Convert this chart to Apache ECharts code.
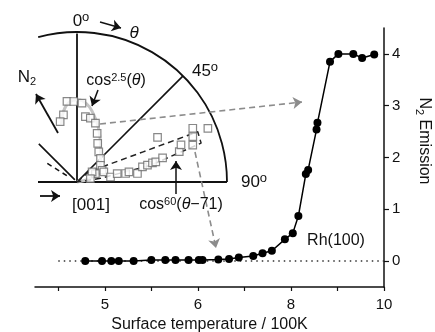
<!DOCTYPE html>
<html>
<head>
<meta charset="utf-8">
<script src="https://cdn.jsdelivr.net/npm/echarts@6/dist/echarts.min.js"></script>
<style>html,body{margin:0;padding:0;background:#fff}#chart{width:435px;height:332px}</style>
</head>
<body>
<div id="chart"></div>
<script>
// main curve, temperature in 100K
var surfaceTemp = [4.79, 4.97, 5.07, 5.15, 5.31, 5.50, 5.65, 5.76, 5.90, 6.02, 6.10, 6.44, 6.67, 6.88, 7.19, 7.39, 7.59, 7.87, 8.04, 8.16, 8.32, 8.37, 8.55, 8.57, 8.84, 9.02, 9.34, 9.53, 9.79];
var n2Emission = [0, 0, 0, 0, 0, 0.02, 0.02, 0.02, 0.02, 0.02, 0.02, 0.03, 0.04, 0.07, 0.1, 0.15, 0.2, 0.42, 0.54, 0.87, 1.68, 1.76, 2.54, 2.67, 3.85, 4.0, 4.0, 3.92, 3.99];
var zeroLineTemps = [4.5, 10];
// axis is not linear in T: ticks are evenly spaced
var tickTemps = [4.5, 5, 5.5, 6, 7, 8, 9, 10];
var labelTemps = [5, 6, 8, 10];
var emissionTicks = [0, 1, 2, 3, 4];

// inset, polar: [intensity, angle deg from normal]
var insetSquares = [[0.541,-7.1],[0.537,-2.3],[0.527,3.6],[0.457,-11.4],[0.418,-15.6],[0.44,7.3],[0.435,11.8],[0.411,17.4],[0.351,22.5],[0.292,28.2],[0.248,35.8],[0.222,44.9],[0.192,54.4],[0.185,64.9],[0.135,65.3],[0.121,56.3],[0.092,75.7],
  [0.191,69.4],[0.226,81.5],[0.274,78.1],[0.329,80.1],[0.353,79],[0.407,82],[0.448,77],[0.483,76.6],[0.519,75.8],[0.542,75.7],[0.593,74.2],[0.614,61],[0.711,73.5],[0.736,70.4],[0.81,72.3],[0.829,68.6],[0.851,65.1],[0.943,67.7]];
var cosFitGray = [[0.40,-15],[0.477,-11],[0.531,-6],[0.548,0],[0.525,7],[0.467,13.5],[0.388,21.6],[0.292,32.4],[0.214,47],[0.157,65.5],[0.093,74.5],[0,0]];
var cos60Lobe = [[0,0],[0.103,49],[0.485,65.5],[0.872,67.4],[0.867,72.6],[0.504,77.2],[0.158,81],[0,0]];
var normalLine = [[0,0],[0.99,0]];
var diagLine = [[0,45],[1,45]];
var surfaceLine = [[0.26,-90],[0,0],[1,90]];
var leftSolid = [[0.02,-45],[0.36,-45]];
var leftDashed = [[0.08,-58],[0.26,-58]];

function toAxis(t) { return t <= 6 ? (t - 4.5) * 2 : 3 + (t - 6); }
function fromAxis(u) { return u <= 3 ? 4.5 + u / 2 : 6 + (u - 3); }

var FONT = '"Liberation Sans", Arial, sans-serif';
var chart = echarts.init(document.getElementById('chart'));

var mainData = surfaceTemp.map(function (t, i) { return [toAxis(t), n2Emission[i]]; });

function arrow(x1, y1, x2, y2, color, width, type) {
  return [
    {x: x1, y: y1, symbol: 'none', lineStyle: {color: color, width: width, type: type}, itemStyle: {color: color}},
    {x: x2, y: y2, symbol: 'arrow', symbolSize: 9, itemStyle: {color: color}}
  ];
}

function polarLine(data, color, width, type, smooth) {
  return {
    type: 'line', coordinateSystem: 'polar', polarIndex: 1, data: data,
    symbol: 'none', smooth: smooth || false, clip: false, silent: true,
    lineStyle: {color: color, width: width, type: type || 'solid'}, z: 3
  };
}

var supStyle = {fontSize: 11, fontFamily: FONT, verticalAlign: 'top', lineHeight: 18, fill: '#111'};
var degStyle = {fontSize: 13, fontFamily: FONT, verticalAlign: 'top', lineHeight: 20, fill: '#111'};
var subStyle = {fontSize: 11, fontFamily: FONT, verticalAlign: 'bottom', lineHeight: 20, fill: '#111'};
function txt(x, y, text, size) {
  var rich = {sup: supStyle, deg: degStyle, sub: subStyle, it: {fontStyle: 'italic', fontSize: size, fontFamily: FONT, lineHeight: 18, fill: '#111'}};
  return {
    type: 'text', x: x, y: y, z: 10,
    style: {text: text, font: size + 'px ' + FONT, fill: '#111', align: 'center', verticalAlign: 'middle', rich: rich, lineHeight: 18}
  };
}

chart.setOption({
  animation: false,
  grid: {left: 35, right: 51, top: 28, bottom: 45, containLabel: false, outerBoundsMode: 'none'},
  xAxis: {
    type: 'value', min: -0.5, max: 7,
    axisLine: {onZero: false, lineStyle: {color: '#111', width: 1.5}},
    axisTick: {customValues: tickTemps.map(toAxis), length: 4, lineStyle: {color: '#111', width: 1.2}},
    axisLabel: {customValues: labelTemps.map(toAxis), margin: 10, color: '#111', fontSize: 15, fontFamily: FONT,
      formatter: function (v) { return String(Math.round(fromAxis(v) * 10) / 10); }},
    splitLine: {show: false},
    name: 'Surface temperature / 100K', nameLocation: 'middle', nameGap: 29,
    nameTextStyle: {color: '#111', fontSize: 16, fontFamily: FONT}
  },
  yAxis: {
    type: 'value', position: 'right', min: -0.5, max: 4.5,
    axisLine: {show: true, onZero: false, lineStyle: {color: '#111', width: 1.5}},
    axisTick: {show: true, customValues: emissionTicks, length: 5, lineStyle: {color: '#111', width: 1.2}},
    axisLabel: {customValues: emissionTicks, margin: 8, color: '#111', fontSize: 15, fontFamily: FONT},
    splitLine: {show: false},
    name: 'N{sub|2} Emission', nameLocation: 'middle', nameGap: 30, nameRotate: -90,
    nameTextStyle: {color: '#111', fontSize: 16, fontFamily: FONT, padding: [0, 33, 0, 0],
      rich: {sub: {fontSize: 11, fontFamily: FONT, verticalAlign: 'bottom', lineHeight: 20, color: '#111'}}}
  },
  polar: [{center: [77, 182], radius: 150}, {center: [77, 182], radius: 150}],
  angleAxis: [
    {polarIndex: 0, min: -15, max: 90, startAngle: 105, endAngle: 0, clockwise: true,
      axisLine: {lineStyle: {color: '#111', width: 1.8}}, axisTick: {show: false}, axisLabel: {show: false}, splitLine: {show: false}},
    {polarIndex: 1, min: -90, max: 270, startAngle: 180, clockwise: true, show: false}
  ],
  radiusAxis: [
    {polarIndex: 0, min: 0, max: 1, show: false},
    {polarIndex: 1, min: 0, max: 1, show: false}
  ],
  series: [
    {
      type: 'line', data: zeroLineTemps.map(function (t) { return [toAxis(t), 0]; }),
      symbol: 'none', silent: true, z: 1,
      lineStyle: {color: '#333', width: 1.5, type: [1.5, 4]},
      markLine: {
        silent: true, symbol: ['none', 'arrow'], symbolSize: 9, label: {show: false},
        data: [
          arrow(100, 124, 302, 102, '#8c8c8c', 1.6, [6, 4]),
          arrow(195, 152, 216, 248, '#8c8c8c', 1.6, [6, 4]),
          arrow(58, 133, 36, 94, '#111', 1.8, 'solid'),
          arrow(98, 90, 92, 106, '#111', 1.5, 'solid'),
          arrow(176, 194, 176, 161, '#111', 1.5, 'solid'),
          arrow(100, 22, 121, 28, '#111', 1.5, 'solid'),
          arrow(40, 196, 60, 196, '#111', 1.8, 'solid')
        ]
      }
    },
    {
      type: 'line', data: mainData, symbol: 'circle', symbolSize: 8, z: 5,
      itemStyle: {color: '#000'}, lineStyle: {color: '#000', width: 1.5}
    },
    polarLine(normalLine, '#111', 1.8),
    polarLine(diagLine, '#111', 1.6),
    polarLine(surfaceLine, '#111', 1.8),
    polarLine(leftSolid, '#111', 1.6),
    polarLine(leftDashed, '#111', 1.5, [5, 4]),
    polarLine(cosFitGray, '#c4c4c4', 3, 'solid', true),
    polarLine(cos60Lobe, '#222', 1.5, [6, 4]),
    {
      type: 'scatter', coordinateSystem: 'polar', polarIndex: 1, data: insetSquares,
      symbol: 'rect', symbolSize: 7.5, z: 6, silent: true,
      itemStyle: {color: '#fff', borderColor: '#6a6a6a', borderWidth: 1.2}
    }
  ],
  graphic: [
    txt(81, 21, '0{deg|o}', 17),
    txt(134, 33, '{it|θ}', 17),
    txt(205, 71, '45{deg|o}', 17),
    txt(27, 77, 'N{sub|2}', 17),
    txt(116, 81, 'cos{sup|2.5}({it|θ})', 16),
    txt(254, 182, '90{deg|o}', 17),
    txt(91, 205, '[001]', 17),
    txt(181, 205, 'cos{sup|60}({it|θ}−71)', 16),
    txt(336, 241, 'Rh(100)', 16)
  ]
});
</script>
</body>
</html>
